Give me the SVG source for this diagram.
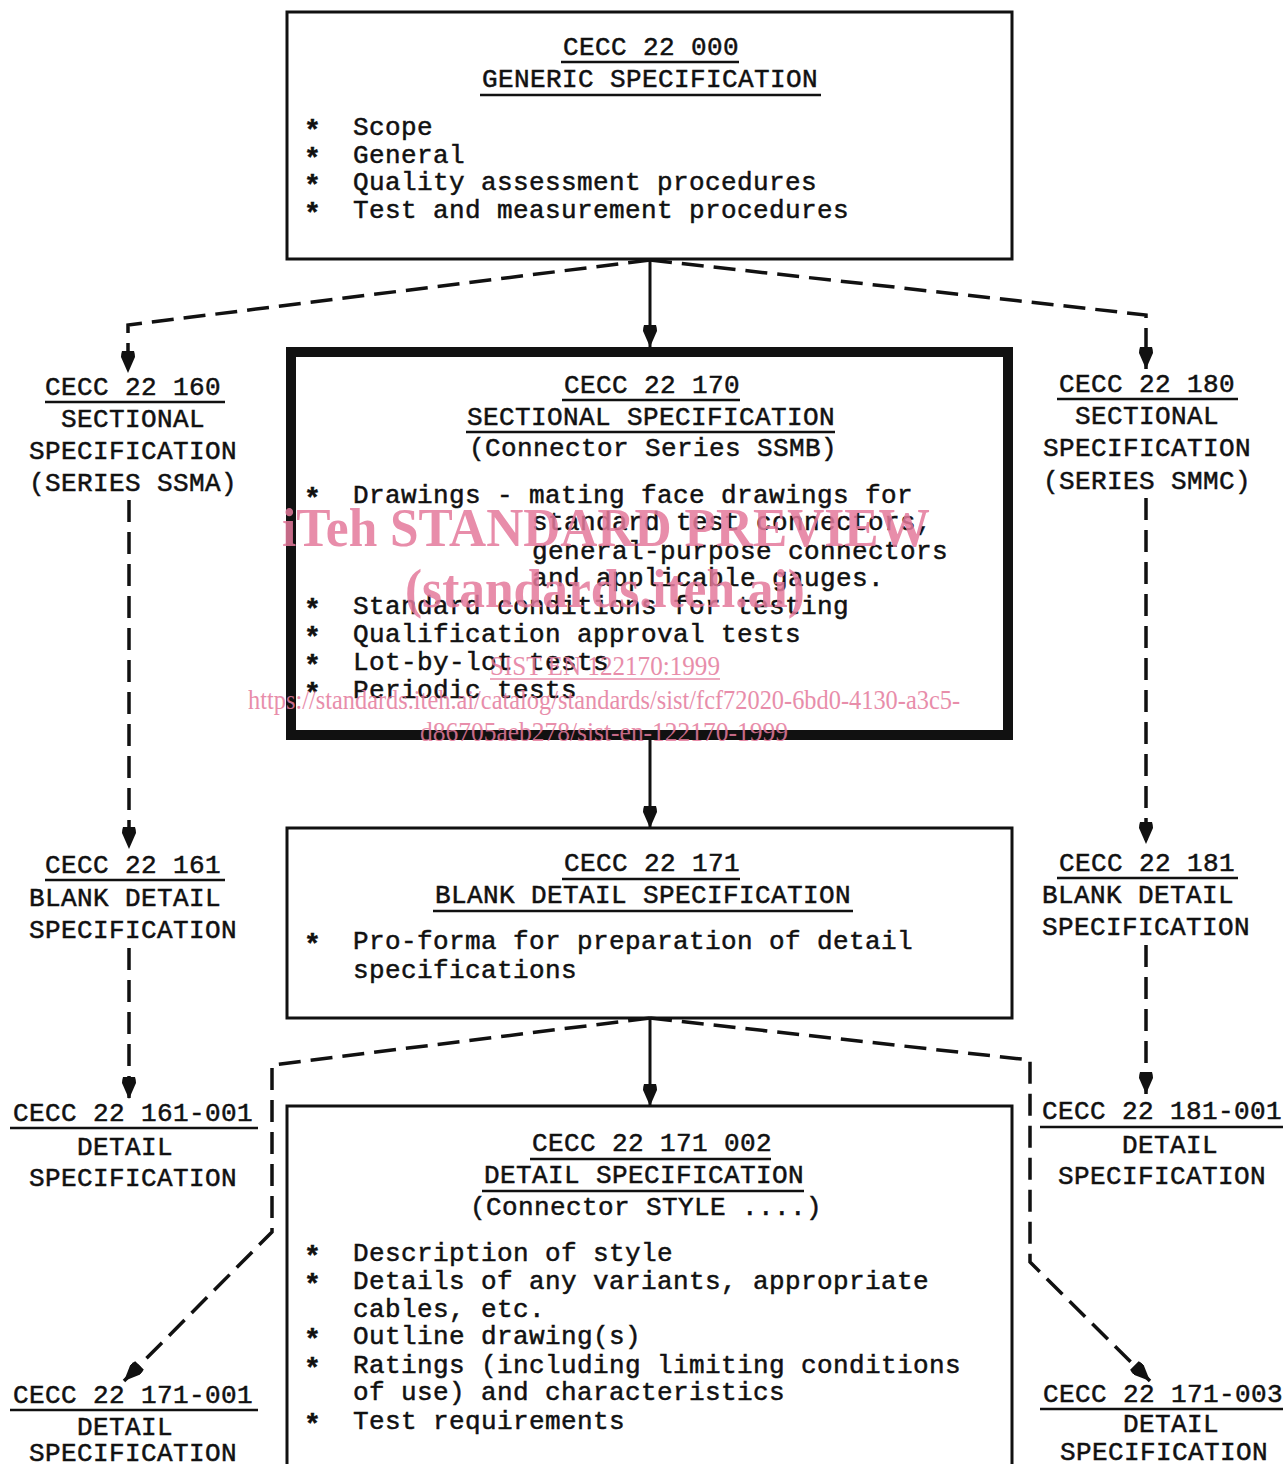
<svg xmlns="http://www.w3.org/2000/svg" width="1285" height="1464" viewBox="0 0 1285 1464">
<style>
  text { font-family: "Liberation Mono", "DejaVu Sans Mono", monospace; font-size: 26px; letter-spacing: 0.4px; fill: #111; stroke: #111; stroke-width: 0.5px; }
  .ast { font-weight: bold; font-size: 28px; }
  .box { fill: none; stroke: #111; stroke-width: 3; }
  .thick { fill: none; stroke: #111; stroke-width: 10; }
  .ul { stroke: #111; stroke-width: 2.5; }
  .solid { fill: none; stroke: #111; stroke-width: 3; marker-end: url(#arr); }
  .dash { fill: none; stroke: #111; stroke-width: 3.5; stroke-dasharray: 22 10; marker-end: url(#arr); }
  .wm { font-family: "Liberation Serif", "Times New Roman", serif; fill: #e57a9c; stroke: none; opacity: 0.85; letter-spacing: 0; }
  .wmbig { font-size: 54px; font-weight: bold; }
  .wmsmall { font-size: 28px; }
</style>
<defs>
  <marker id="arr" viewBox="0 0 22 14" refX="22" refY="7" markerWidth="22" markerHeight="14" markerUnits="userSpaceOnUse" orient="auto">
    <path d="M0,1 Q3,0 6,0 L22,7 L6,14 Q3,14 0,13 Z" fill="#111"/>
  </marker>
</defs>
<rect width="1285" height="1464" fill="#fff"/>

<g id="connectors">
  <path class="solid" d="M650,260 V347"/>
  <path class="dash" d="M650,260 L128,325 V373"/>
  <path class="dash" d="M650,260 L1146,315 V369"/>
  <path class="solid" d="M650,740 V828"/>
  <path class="dash" d="M129,500 V849"/>
  <path class="dash" d="M129,948 V1099"/>
  <path class="dash" d="M1146,498 V844"/>
  <path class="dash" d="M1146,945 V1094"/>
  <path class="solid" d="M650,1018 V1106"/>
  <path class="dash" d="M650,1018 L272,1065 V1232 L124,1381"/>
  <path class="dash" d="M650,1018 L1030,1060 V1262 L1150,1381"/>
</g>

<g id="generic">
  <rect class="box" x="287" y="12" width="725" height="247"/>
  <text x="563" y="55">CECC 22 000</text>
  <line class="ul" x1="561" y1="62" x2="739" y2="62"/>
  <text x="482" y="87">GENERIC SPECIFICATION</text>
  <line class="ul" x1="480" y1="95" x2="821" y2="95"/>
  <text class="ast" x="304" y="139">*</text><text x="353" y="135">Scope</text>
  <text class="ast" x="304" y="167">*</text><text x="353" y="163">General</text>
  <text class="ast" x="304" y="194">*</text><text x="353" y="190">Quality assessment procedures</text>
  <text class="ast" x="304" y="222">*</text><text x="353" y="218">Test and measurement procedures</text>
</g>

<g id="sectional-ssmb">
  <rect class="thick" x="291" y="352" width="717" height="383"/>
  <text x="564" y="393">CECC 22 170</text>
  <line class="ul" x1="562" y1="400" x2="740" y2="400"/>
  <text x="467" y="425">SECTIONAL SPECIFICATION</text>
  <line class="ul" x1="466" y1="432" x2="835" y2="432"/>
  <text x="469" y="456">(Connector Series SSMB)</text>
  <text class="ast" x="304" y="507">*</text><text x="353" y="503">Drawings - mating face drawings for</text>
  <text x="532" y="530">standard test connectors,</text>
  <text x="532" y="559">general-purpose connectors</text>
  <text x="532" y="586">and applicable gauges.</text>
  <text class="ast" x="304" y="618">*</text><text x="353" y="614">Standard conditions for testing</text>
  <text class="ast" x="304" y="646">*</text><text x="353" y="642">Qualification approval tests</text>
  <text class="ast" x="304" y="674">*</text><text x="353" y="670">Lot-by-lot tests</text>
  <text class="ast" x="304" y="702">*</text><text x="353" y="698">Periodic tests</text>
</g>

<g id="blank-detail">
  <rect class="box" x="287" y="828" width="725" height="190"/>
  <text x="564" y="871">CECC 22 171</text>
  <line class="ul" x1="562" y1="879" x2="740" y2="879"/>
  <text x="435" y="903">BLANK DETAIL SPECIFICATION</text>
  <line class="ul" x1="433" y1="911" x2="853" y2="911"/>
  <text class="ast" x="304" y="953">*</text><text x="353" y="949">Pro-forma for preparation of detail</text>
  <text x="353" y="978">specifications</text>
</g>

<g id="detail-002">
  <rect class="box" x="287" y="1106" width="725" height="380"/>
  <text x="532" y="1151">CECC 22 171 002</text>
  <line class="ul" x1="530" y1="1159" x2="771" y2="1159"/>
  <text x="484" y="1183">DETAIL SPECIFICATION</text>
  <line class="ul" x1="482" y1="1191" x2="804" y2="1191"/>
  <text x="470" y="1215">(Connector STYLE ....)</text>
  <text class="ast" x="304" y="1265">*</text><text x="353" y="1261">Description of style</text>
  <text class="ast" x="304" y="1293">*</text><text x="353" y="1289">Details of any variants, appropriate</text>
  <text x="353" y="1317">cables, etc.</text>
  <text class="ast" x="304" y="1348">*</text><text x="353" y="1344">Outline drawing(s)</text>
  <text class="ast" x="304" y="1377">*</text><text x="353" y="1373">Ratings (including limiting conditions</text>
  <text x="353" y="1400">of use) and characteristics</text>
  <text class="ast" x="304" y="1433">*</text><text x="353" y="1429">Test requirements</text>
</g>

<g id="sectional-ssma">
  <text x="45" y="395">CECC 22 160</text>
  <line class="ul" x1="45" y1="402" x2="225" y2="402"/>
  <text x="61" y="427">SECTIONAL</text>
  <text x="29" y="459">SPECIFICATION</text>
  <text x="29" y="491">(SERIES SSMA)</text>
</g>
<g id="blank-161">
  <text x="45" y="873">CECC 22 161</text>
  <line class="ul" x1="45" y1="880" x2="225" y2="880"/>
  <text x="29" y="906">BLANK DETAIL</text>
  <text x="29" y="938">SPECIFICATION</text>
</g>
<g id="detail-161-001">
  <text x="13" y="1121">CECC 22 161-001</text>
  <line class="ul" x1="10" y1="1128" x2="258" y2="1128"/>
  <text x="77" y="1155">DETAIL</text>
  <text x="29" y="1186">SPECIFICATION</text>
</g>
<g id="detail-171-001">
  <text x="13" y="1403">CECC 22 171-001</text>
  <line class="ul" x1="10" y1="1410" x2="258" y2="1410"/>
  <text x="77" y="1435">DETAIL</text>
  <text x="29" y="1461">SPECIFICATION</text>
</g>

<g id="sectional-smmc">
  <text x="1059" y="392">CECC 22 180</text>
  <line class="ul" x1="1057" y1="399" x2="1238" y2="399"/>
  <text x="1075" y="424">SECTIONAL</text>
  <text x="1043" y="456">SPECIFICATION</text>
  <text x="1043" y="489">(SERIES SMMC)</text>
</g>
<g id="blank-181">
  <text x="1059" y="871">CECC 22 181</text>
  <line class="ul" x1="1057" y1="878" x2="1238" y2="878"/>
  <text x="1042" y="903">BLANK DETAIL</text>
  <text x="1042" y="935">SPECIFICATION</text>
</g>
<g id="detail-181-001">
  <text x="1042" y="1119">CECC 22 181-001</text>
  <line class="ul" x1="1040" y1="1127" x2="1283" y2="1127"/>
  <text x="1122" y="1153">DETAIL</text>
  <text x="1058" y="1184">SPECIFICATION</text>
</g>
<g id="detail-171-003">
  <text x="1043" y="1402">CECC 22 171-003</text>
  <line class="ul" x1="1040" y1="1409" x2="1283" y2="1409"/>
  <text x="1123" y="1432">DETAIL</text>
  <text x="1060" y="1460">SPECIFICATION</text>
</g>

<g id="watermark">
  <text class="wm wmbig" x="282" y="546" textLength="648" lengthAdjust="spacingAndGlyphs">iTeh STANDARD PREVIEW</text>
  <text class="wm wmbig" x="405" y="607" textLength="400" lengthAdjust="spacingAndGlyphs">(standards.iteh.ai)</text>
  <text class="wm wmsmall" x="490" y="675" textLength="230" lengthAdjust="spacingAndGlyphs">SIST EN 122170:1999</text>
  <line x1="490" y1="679" x2="720" y2="679" stroke="#e57a9c" stroke-width="1.5" opacity="0.85"/>
  <text class="wm wmsmall" x="248" y="709" textLength="712" lengthAdjust="spacingAndGlyphs">https://standards.iteh.ai/catalog/standards/sist/fcf72020-6bd0-4130-a3c5-</text>
  <text class="wm wmsmall" x="420" y="741" textLength="368" lengthAdjust="spacingAndGlyphs">d86705aeb278/sist-en-122170-1999</text>
</g>
</svg>
